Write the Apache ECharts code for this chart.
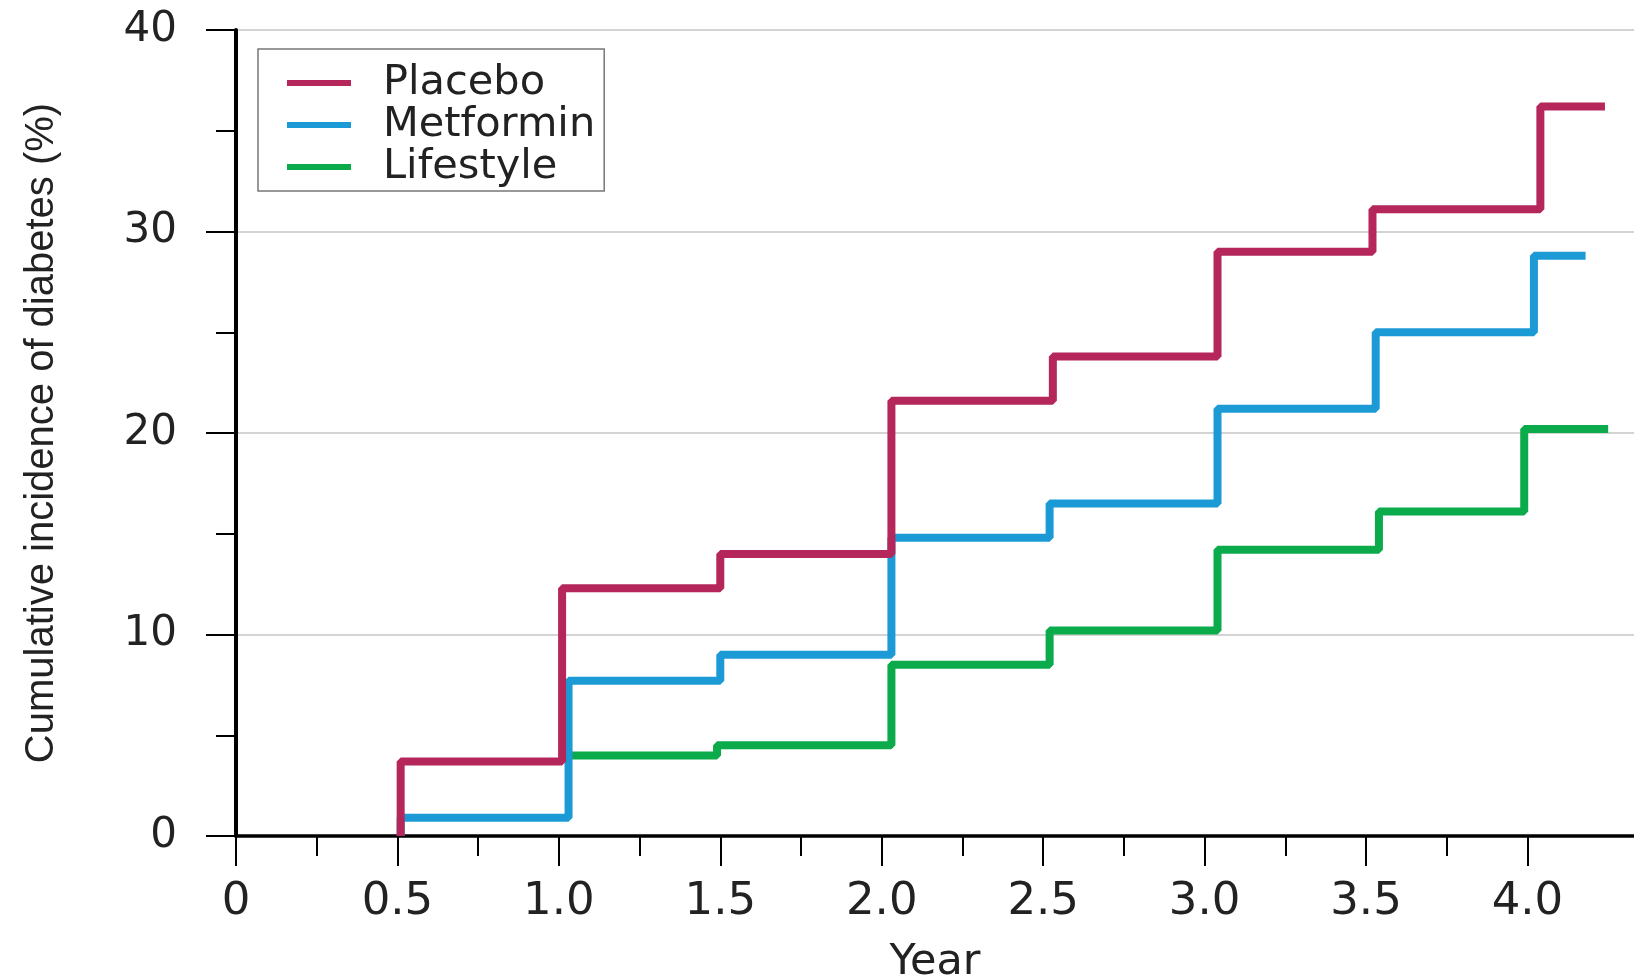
<!DOCTYPE html>
<html>
<head>
<meta charset="utf-8">
<script src="https://cdn.jsdelivr.net/npm/echarts@6/dist/echarts.min.js"></script>
<style>
	html, body { margin: 0; padding: 0; background: #fff; }
	#chart { width: 1634px; height: 977px; }
</style>
</head>
<body>
<div id="chart"></div>
<script>
// step points: [year of jump, incidence after jump], last point = end of curve
var placeboYears = [0.51, 0.51, 1.01, 1.50, 2.03, 2.53, 3.04, 3.52, 4.04, 4.24];
var placeboValues = [0, 3.7, 12.3, 14.0, 21.6, 23.8, 29.0, 31.1, 36.2, 36.2];

var metforminYears = [0.51, 0.51, 1.03, 1.50, 2.03, 2.52, 3.04, 3.53, 4.02, 4.18];
var metforminValues = [0, 0.9, 7.7, 9.0, 14.8, 16.5, 21.2, 25.0, 28.8, 28.8];

var lifestyleYears = [1.03, 1.49, 2.03, 2.52, 3.04, 3.54, 3.99, 4.25];
var lifestyleValues = [4.0, 4.5, 8.5, 10.2, 14.2, 16.1, 20.2, 20.2];

var majorYearTicks = [0, 0.5, 1.0, 1.5, 2.0, 2.5, 3.0, 3.5, 4.0];
var minorYearTicks = [0.25, 0.75, 1.25, 1.75, 2.25, 2.75, 3.25, 3.75];

function pairs(xs, ys) {
	var out = [];
	for (var i = 0; i < xs.length; i++) {
		out.push([xs[i], ys[i]]);
	}
	return out;
}

var font = 'DejaVu Sans';
var chart = echarts.init(document.getElementById('chart'));
var option = {
	backgroundColor: '#fff',
	animation: false,
	grid: {
		left: 236,
		right: 0,
		top: 30,
		bottom: 141,
		outerBoundsMode: 'none'
	},
	legend: {
		orient: 'vertical',
		left: 258,
		top: 49,
		data: ['Placebo', 'Metformin', 'Lifestyle'],
		icon: 'rect',
		itemWidth: 64,
		itemHeight: 6,
		itemGap: 0,
		padding: [13, 9, 3, 29],
		borderColor: '#777',
		borderWidth: 1.5,
		backgroundColor: '#fff',
		textStyle: {
			fontFamily: font,
			fontSize: 41.5,
			lineHeight: 39,
			color: '#222',
			padding: [0, 0, 0, 27]
		}
	},
	xAxis: [{
		type: 'value',
		min: 0,
		max: 4.33,
		name: 'Year',
		nameLocation: 'middle',
		nameGap: 105,
		nameTextStyle: { fontFamily: font, fontSize: 43, color: '#222' },
		axisLine: { lineStyle: { color: '#000', width: 3.5 } },
		axisTick: {
			customValues: majorYearTicks,
			length: 30,
			lineStyle: { color: '#000', width: 2 }
		},
		axisLabel: {
			customValues: majorYearTicks,
			margin: 44,
			fontFamily: font,
			fontSize: 45,
			color: '#222',
			formatter: function(v) {
				return v === 0 ? '0' : v.toFixed(1);
			}
		},
		splitLine: { show: false }
	}, {
		type: 'value',
		min: 0,
		max: 4.33,
		position: 'bottom',
		axisLine: { show: false },
		axisTick: {
			customValues: minorYearTicks,
			length: 20,
			lineStyle: { color: '#000', width: 2 }
		},
		axisLabel: { show: false },
		splitLine: { show: false }
	}],
	yAxis: {
		type: 'value',
		min: 0,
		max: 40,
		interval: 10,
		name: 'Cumulative incidence of diabetes (%)',
		nameLocation: 'middle',
		nameGap: 174,
		nameTextStyle: { fontFamily: 'Liberation Sans', fontSize: 40, color: '#222' },
		axisLine: { show: true, lineStyle: { color: '#000', width: 4 } },
		axisTick: {
			show: true,
			length: 30,
			lineStyle: { color: '#000', width: 2 }
		},
		minorTick: {
			show: true,
			splitNumber: 2,
			length: 20,
			lineStyle: { color: '#000', width: 2 }
		},
		axisLabel: {
			margin: 59,
			fontFamily: font,
			fontSize: 42,
			color: '#222'
		},
		splitLine: { lineStyle: { color: '#d4d4d4', width: 2 } }
	},
	series: [{
		name: 'Placebo',
		type: 'line',
		step: 'end',
		symbol: 'none',
		z: 5,
		color: '#b5275a',
		lineStyle: { width: 8 },
		data: pairs(placeboYears, placeboValues)
	},
	{
		name: 'Metformin',
		type: 'line',
		step: 'end',
		symbol: 'none',
		z: 4,
		color: '#1c9ad6',
		lineStyle: { width: 8 },
		data: pairs(metforminYears, metforminValues)
	},
	{
		name: 'Lifestyle',
		type: 'line',
		step: 'end',
		symbol: 'none',
		z: 3,
		color: '#0bab4c',
		lineStyle: { width: 8 },
		data: pairs(lifestyleYears, lifestyleValues)
	}]
};
chart.setOption(option);
</script>
</body>
</html>
